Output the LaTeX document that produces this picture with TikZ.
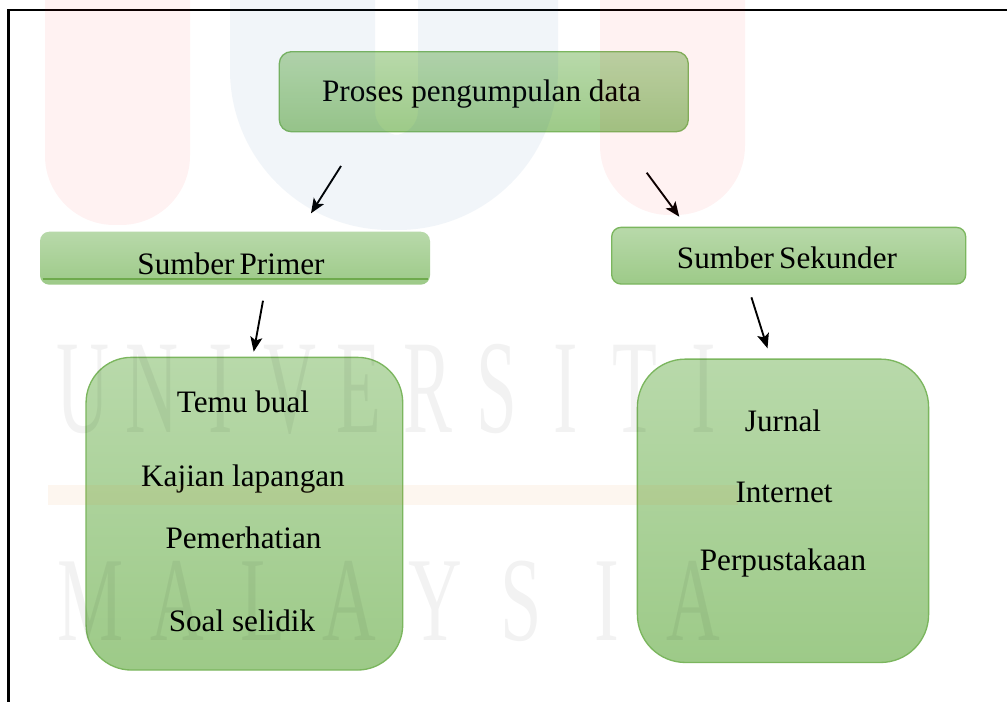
\documentclass[tikz,border=0pt]{standalone}
\usepackage{fontspec}
\setmainfont{Liberation Serif}
\usetikzlibrary{arrows.meta}
\definecolor{boxtop}{HTML}{B8D9AA}
\definecolor{boxbot}{HTML}{9DCA88}
\definecolor{boxedge}{HTML}{7BB65E}
\definecolor{boxline}{HTML}{6EAA4C}
\definecolor{wmred}{HTML}{FF0000}
\definecolor{wmblue}{HTML}{1F5FA8}
\definecolor{wmorange}{HTML}{F08A24}
\begin{document}
\begin{tikzpicture}[x=0.75pt,y=-0.75pt,
  greenbox/.style={draw=boxedge, line width=1pt, top color=boxtop, bottom color=boxbot, inner sep=0pt, outer sep=0pt},
  txt/.style={font=\fontsize{23.4}{28}\selectfont, inner sep=0pt, outer sep=0pt, anchor=base, text=black},
  arr/.style={-{Stealth[length=11pt,width=9pt,inset=2.5pt]}, line width=1.4pt, black},
  wmletter/.style={font=\fontsize{100}{100}\selectfont, inner sep=0pt, anchor=base, text=black, text opacity=0.05},
]
\useasboundingbox (0,0) rectangle (1007,702);
\fill[white] (0,0) rectangle (1007,702);

% frame
\draw[line width=1.6pt] (8.5,702) -- (8.5,10) -- (1007,10);

% boxes
\node[greenbox, rounded corners=9pt, minimum width=306.75pt, minimum height=60pt] (top) at (483.8,91.7) {};
\node[greenbox, draw=none, rounded corners=7pt, minimum width=292.5pt, minimum height=39.75pt] (primer) at (235,258.2) {};
\draw[boxline, line width=1.5pt] (42.7,279.3) -- (428,279.3);
\node[greenbox, rounded corners=7pt, minimum width=265.5pt, minimum height=42.5pt] (sekunder) at (788.7,255.7) {};
\node[greenbox, rounded corners=34pt, minimum width=237.5pt, minimum height=234.5pt] (left) at (244.4,513.7) {};
\node[greenbox, rounded corners=36pt, minimum width=218.4pt, minimum height=227.5pt] (right) at (783,510.8) {};

% texts
\node[txt] (t0) at (481.5,101.7) {Proses pengumpulan data};
\node[txt] (t1) at (231,275) {Sumber\hspace{-2pt} Primer};
\node[txt] (t2) at (787,269) {Sumber\hspace{-2pt} Sekunder};
\node[txt] (l1) at (243,412.7) {Temu bual};
\node[txt] (l2) at (243,486) {Kajian lapangan};
\node[txt] (l3) at (243.5,548) {Pemerhatian};
\node[txt] (l4) at (242,631.7) {Soal selidik};
\node[txt] (r1) at (783,431.7) {Jurnal};
\node[txt] (r2) at (784,502.7) {Internet};
\node[txt] (r3) at (783,570) {Perpustakaan};

% arrows
\coordinate (a1s) at (341,166);
\coordinate (a1e) at (311,213.3);
\coordinate (a2s) at (646.7,172.7);
\coordinate (a2e) at (679.3,216.7);
\coordinate (a3s) at (263,300.7);
\coordinate (a3e) at (253.7,351.7);
\coordinate (a4s) at (751.4,297.3);
\coordinate (a4e) at (767.5,348.3);
\draw[arr] (a1s) -- (a1e);
\draw[arr] (a2s) -- (a2e);
\draw[arr] (a3s) -- (a3e);
\draw[arr] (a4s) -- (a4e);

% faint watermark
\begin{scope}
\clip (0,0) rectangle (1007,702);
\fill[wmred, opacity=0.05, rounded corners=52pt] (45,-30) -- (45,225) -- (190,225) -- (190,-30);
\fill[wmred, opacity=0.05, rounded corners=52pt] (600,-30) -- (600,215) -- (745,215) -- (745,-30);
\fill[wmblue, opacity=0.06, even odd rule]
  [rounded corners=120pt] (230,-30) -- (230,230) -- (558,230) -- (558,-30)
  [rounded corners=18pt] (375,-40) -- (375,135) -- (418,135) -- (418,-40);
\fill[wmorange, opacity=0.07] (48,485) rectangle (738,505);
\foreach \ch [count=\i] in {U,N,I,V,E,R,S,I,T,I} {
  \node[wmletter] (wu\i) at ({82.5+69*(\i-1)},432) {\scalebox{0.55}[1.0]{\ch}};
}
\foreach \ch [count=\i] in {M,A,L,A,Y,S,I,A} {
  \node[wmletter, font=\fontsize{90}{90}\selectfont] (wm\i) at ({91+86*(\i-1)},640) {\scalebox{0.62}[1.0]{\ch}};
}
\end{scope}
\end{tikzpicture}
\end{document}
